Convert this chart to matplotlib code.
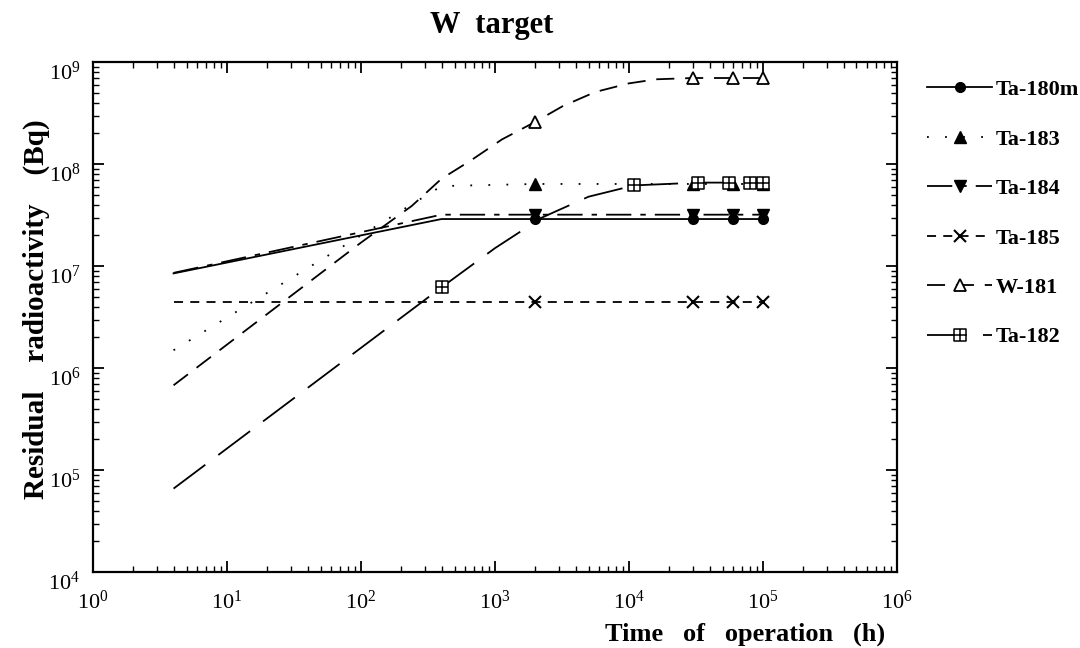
import matplotlib
matplotlib.use("Agg")
import matplotlib.pyplot as plt
from matplotlib.path import Path
from matplotlib.lines import Line2D
from matplotlib.ticker import LogLocator, FixedLocator, NullFormatter
from matplotlib.transforms import ScaledTranslation

plt.rcParams['font.family'] = ['Liberation Serif', 'DejaVu Serif']
plt.rcParams['mathtext.fontset'] = 'custom'
plt.rcParams['mathtext.rm'] = 'Liberation Serif'
plt.rcParams['mathtext.it'] = 'Liberation Serif:italic'
plt.rcParams['mathtext.bf'] = 'Liberation Serif:bold'

# ---------------- data ----------------
t_ta180m = [4, 400, 2000, 30000, 60000, 100000]
a_ta180m = [8.5e6, 2.9e7, 2.9e7, 2.9e7, 2.9e7, 2.9e7]
m_ta180m = [2, 3, 4, 5]

t_ta183 = [4, 400, 2000, 30000, 60000, 100000]
a_ta183 = [1.5e6, 6.1e7, 6.4e7, 6.4e7, 6.4e7, 6.4e7]
m_ta183 = [2, 3, 4, 5]

t_ta184 = [4, 400, 2000, 30000, 60000, 100000]
a_ta184 = [8.6e6, 3.2e7, 3.2e7, 3.2e7, 3.2e7, 3.2e7]
m_ta184 = [2, 3, 4, 5]

t_ta185 = [4, 2000, 30000, 60000, 100000]
a_ta185 = [4.5e6, 4.5e6, 4.5e6, 4.5e6, 4.5e6]
m_ta185 = [1, 2, 3, 4]

t_w181 = [4, 100, 240, 400, 670, 1130, 2000, 3200, 5600, 10000, 16000, 30000, 60000, 100000]
a_w181 = [6.8e5, 1.7e7, 3.9e7, 7.2e7, 1.1e8, 1.75e8, 2.6e8, 3.7e8, 5.1e8, 6.2e8, 6.8e8, 7.0e8, 7.0e8, 7.0e8]
m_w181 = [6, 11, 12, 13]

t_ta182 = [4, 400, 1000, 2250, 5000, 11000, 33000, 56000, 80000, 100000]
a_ta182 = [6.6e4, 6.2e6, 1.5e7, 3.0e7, 4.8e7, 6.2e7, 6.6e7, 6.6e7, 6.6e7, 6.6e7]
m_ta182 = [1, 5, 6, 7, 8, 9]

labels = ['Ta-180m', 'Ta-183', 'Ta-184', 'Ta-185', 'W-181', 'Ta-182']
x_ticks = [1e0, 1e1, 1e2, 1e3, 1e4, 1e5, 1e6]
y_ticks = [1e4, 1e5, 1e6, 1e7, 1e8, 1e9]

# ---------------- styles ----------------
boxplus = Path([(-1, -1), (1, -1), (1, 1), (-1, 1), (-1, -1),
                (0, -1), (0, 1), (-1, 0), (1, 0)],
               [Path.MOVETO, Path.LINETO, Path.LINETO, Path.LINETO, Path.CLOSEPOLY,
                Path.MOVETO, Path.LINETO, Path.MOVETO, Path.LINETO])

fig = plt.figure(figsize=(10.8, 6.48), dpi=100)
ax = fig.add_axes([0.086, 0.117, 0.7444, 0.787])

lw = 1.3
series = [
    (t_ta180m, a_ta180m, m_ta180m, dict(ls='-', marker='o', ms=7, mfc='black', mec='black')),
    (t_ta183, a_ta183, m_ta183, dict(ls=(0, (1, 9)), marker='^', ms=8, mfc='black', mec='black')),
    (t_ta184, a_ta184, m_ta184, dict(ls=(0, (14, 5, 3, 5)), marker='v', ms=8, mfc='black', mec='black')),
    (t_ta185, a_ta185, m_ta185, dict(ls=(0, (5, 4)), marker='x', ms=8, mew=1.5, mec='black')),
    (t_w181, a_w181, m_w181, dict(ls=(0, (10, 6)), marker='^', ms=9, mfc='white', mec='black', mew=1.3)),
    (t_ta182, a_ta182, m_ta182, dict(ls=(0, (22, 9)), marker=boxplus, ms=9, mfc='white', mec='black', mew=1.1)),
]

handles = []
for (t, a, m, st), lab in zip(series, labels):
    ax.plot(t, a, color='black', lw=lw, markevery=m, **st)
    handles.append(Line2D([], [], color='black', lw=lw, **st))

ax.set_xscale('log')
ax.set_yscale('log')
ax.set_xlim(x_ticks[0], x_ticks[-1])
ax.set_ylim(y_ticks[0], y_ticks[-1])

ax.xaxis.set_major_locator(FixedLocator(x_ticks))
ax.yaxis.set_major_locator(FixedLocator(y_ticks))
ax.xaxis.set_minor_locator(LogLocator(base=10, subs=range(2, 10), numticks=20))
ax.yaxis.set_minor_locator(LogLocator(base=10, subs=range(2, 10), numticks=20))
ax.xaxis.set_minor_formatter(NullFormatter())
ax.yaxis.set_minor_formatter(NullFormatter())

ax.tick_params(which='both', direction='in', top=True, right=True, colors='black')
ax.tick_params(which='major', length=8, width=1.3, labelsize=16)
ax.tick_params(axis='x', which='major', pad=13)
ax.tick_params(axis='y', which='major', pad=9)
ax.tick_params(which='minor', length=4, width=1.0)
for s in ax.spines.values():
    s.set_linewidth(1.6)

fig.text(0.455, 1 - 25 / 648, 'W  target', fontsize=22, fontweight='bold',
         ha='center', va='center')
ax.set_xlabel('Time   of   operation   (h)', fontsize=19, fontweight='bold')
ax.xaxis.set_label_coords(0.985, -0.122)
ax.xaxis.label.set_ha('right')
ax.xaxis.label.set_va('center')
ax.set_ylabel('Residual    radioactivity    (Bq)', fontsize=21, fontweight='bold')
ax.yaxis.set_label_coords(-0.07, 0.515)
ax.yaxis.label.set_va('center')

leg = ax.legend(handles, labels, loc='upper left', bbox_to_anchor=(1.013, 1.005),
                frameon=False, handlelength=2.9, handletextpad=0.2,
                labelspacing=1.3, prop=dict(family='Liberation Serif', weight='bold', size=16))

fig.canvas.draw()
off = ScaledTranslation(0, -6 / 72, fig.dpi_scale_trans)
for tk in ax.yaxis.get_major_ticks():
    tk.label1.set_transform(tk.label1.get_transform() + off)

fig.savefig('out.png', dpi=100)
